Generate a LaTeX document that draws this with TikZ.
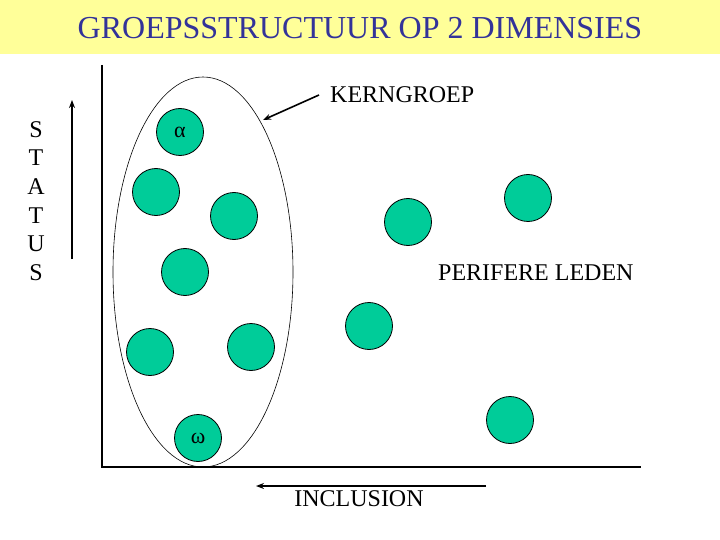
\documentclass[tikz,border=0pt]{standalone}
\usepackage{fontspec}
\setmainfont{Liberation Serif}
\usetikzlibrary{arrows.meta,shapes.geometric}
\definecolor{band}{HTML}{FFFF99}
\definecolor{titleblue}{HTML}{333399}
\definecolor{member}{HTML}{00CC99}
\begin{document}
\begin{tikzpicture}[x=1pt,y=-1pt,
  member/.style={circle,draw=black,fill=member,minimum size=47pt,inner sep=0pt,line width=0.8pt,font=\fontsize{22}{24}\selectfont},
  lbl/.style={inner sep=0pt,font=\fontsize{24}{28.6}\selectfont},
  axis/.style={line width=2.6pt},
  pointer/.style={line width=1.6pt,-{Stealth[length=8pt,width=6pt]}}]
\useasboundingbox (0,0) rectangle (720,540);
\fill[band] (0,0) rectangle (720,54);
\node[inner sep=0pt,text=titleblue,font=\fontsize{32}{34}\selectfont] (title) at (360,28) {GROEPSSTRUCTUUR OP 2 DIMENSIES};
% axes
\coordinate (o) at (102,467);
\coordinate (ytop) at (102,65);
\coordinate (xend) at (641,467);
\draw[axis] (ytop) -- (o) -- (xend);
% status
\coordinate (s1) at (72,259);
\coordinate (s2) at (72,100);
\draw[pointer] (s1) -- (s2);
\node[lbl,align=center] (status) at (36,201) {S\\T\\A\\T\\U\\S};
% core group ellipse
\node[ellipse,draw,minimum width=180pt,minimum height=390pt,inner sep=0pt,line width=0.6pt] (kern) at (203,272) {};
% members
\node[member] (a) at (180,132) {α};
\node[member] (m1) at (156,192) {};
\node[member] (m2) at (234,216) {};
\node[member] (m3) at (408,222) {};
\node[member] (m4) at (528,198) {};
\node[member] (m5) at (185,272) {};
\node[member] (m6) at (150,352) {};
\node[member] (m7) at (251,347) {};
\node[member] (m8) at (369,326) {};
\node[member] (w) at (198,438) {ω};
\node[member] (m9) at (510,420) {};
% labels
\node[lbl,anchor=west] (kg) at (330,95) {KERNGROEP};
\coordinate (kgt) at (319,95);
\coordinate (kgh) at (263,120);
\draw[pointer] (kgt) -- (kgh);
\node[lbl,anchor=west] (per) at (438,273) {PERIFERE LEDEN};
\coordinate (in1) at (486,486);
\coordinate (in2) at (256,486);
\draw[pointer] (in1) -- (in2);
\node[lbl] (incl) at (359,499) {INCLUSION};
\end{tikzpicture}
\end{document}
